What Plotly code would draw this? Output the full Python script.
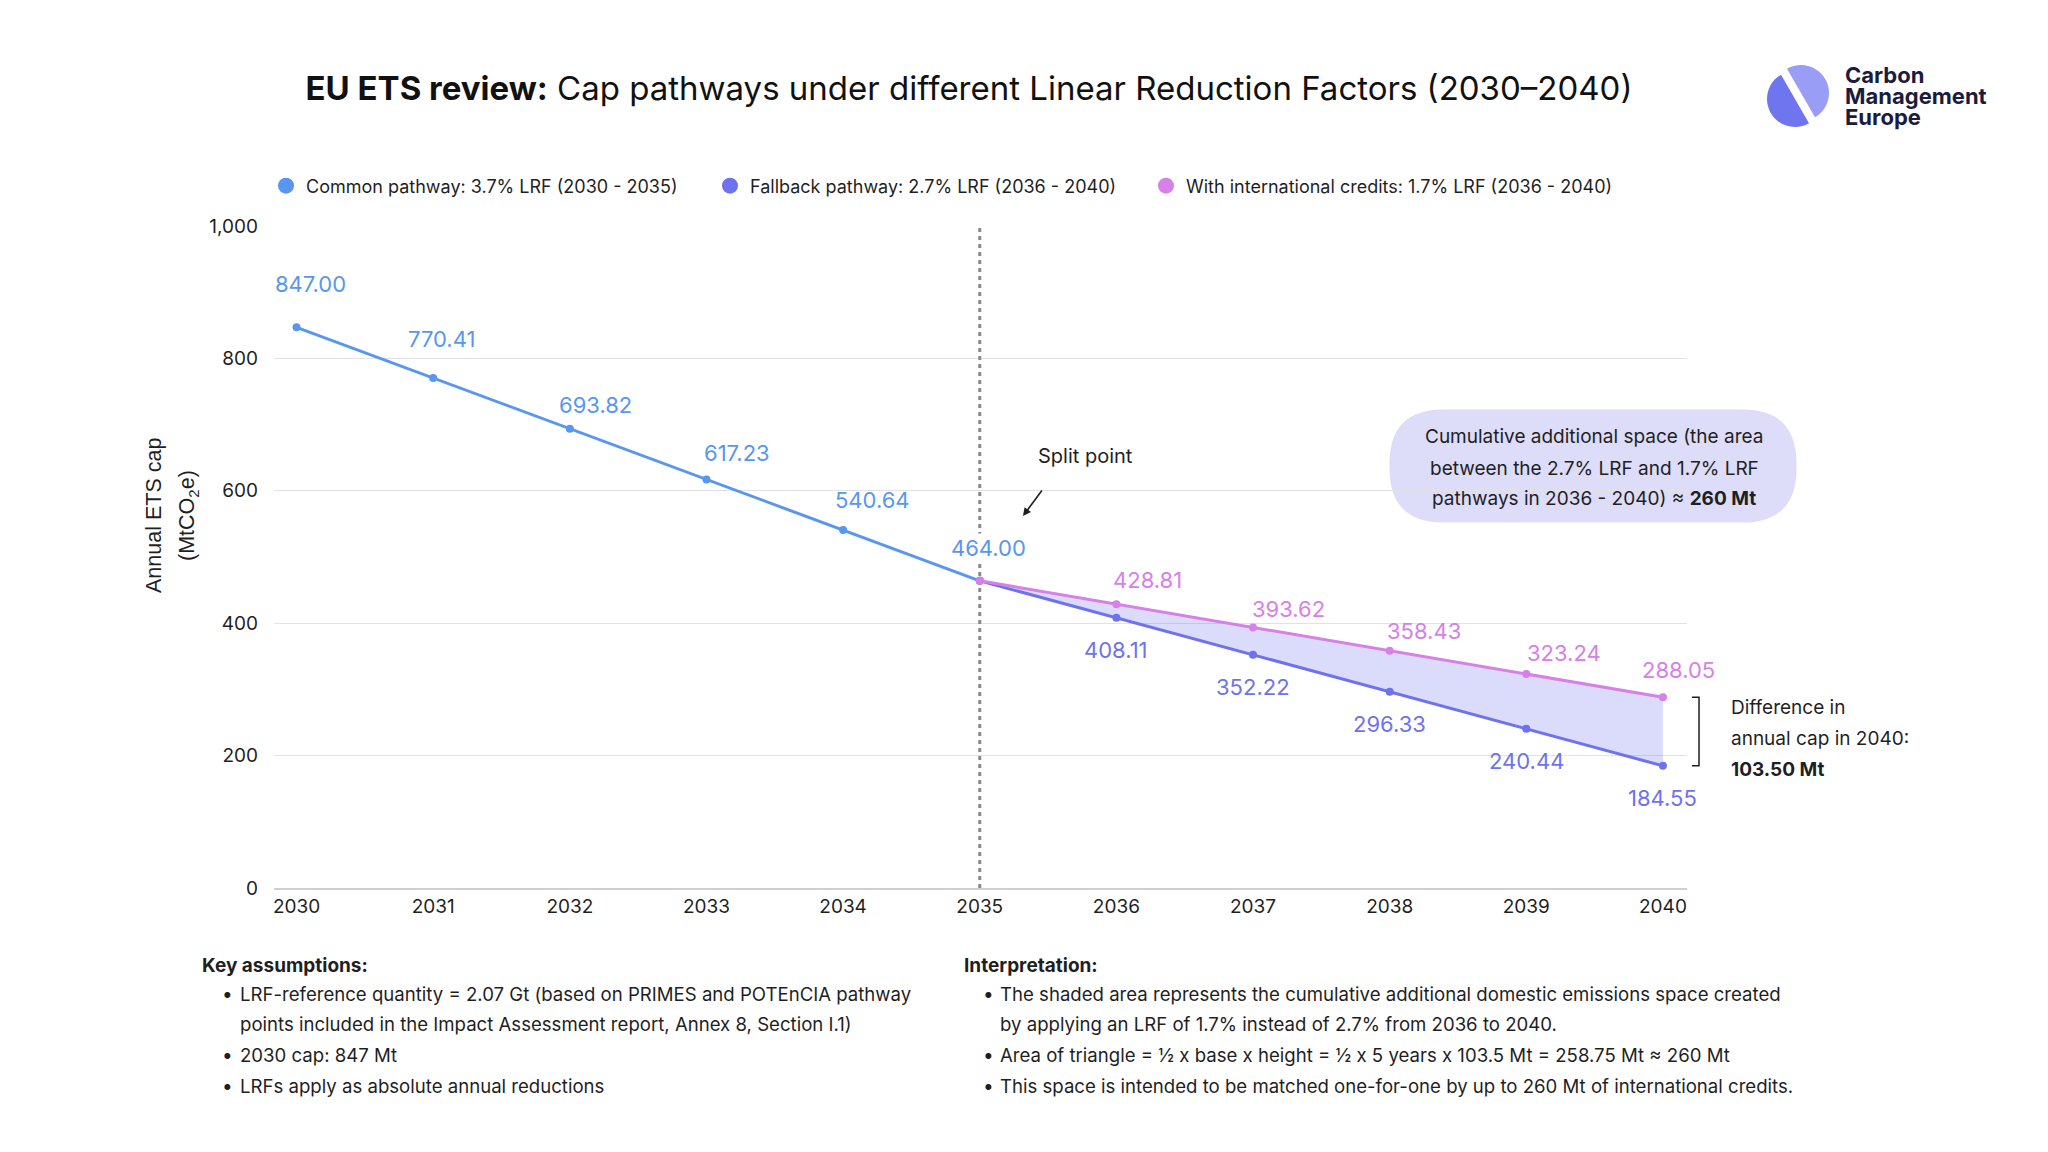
import math
import plotly.graph_objects as go

# values
years_common = [2030, 2031, 2032, 2033, 2034, 2035]
cap_common = [847.00, 770.41, 693.82, 617.23, 540.64, 464.00]

years_split = [2035, 2036, 2037, 2038, 2039, 2040]
cap_fallback = [464.00, 408.11, 352.22, 296.33, 240.44, 184.55]
cap_credits = [464.00, 428.81, 393.62, 358.43, 323.24, 288.05]

x_ticks = list(range(2030, 2041))
y_ticks = [0, 200, 400, 600, 800, 1000]

legend_names = [
    "Common pathway: 3.7% LRF (2030 - 2035)",
    "Fallback pathway: 2.7% LRF (2036 - 2040)",
    "With international credits: 1.7% LRF (2036 - 2040)",
]

callout_lines = [
    "Cumulative additional space (the area",
    "between the 2.7% LRF and 1.7% LRF",
    "pathways in 2036 - 2040) ≈ <b>260 Mt</b>",
]

assumptions = [
    (True, "LRF-reference quantity = 2.07 Gt (based on PRIMES and POTEnCIA pathway"),
    (False, "points included in the Impact Assessment report, Annex 8, Section I.1)"),
    (True, "2030 cap: 847 Mt"),
    (True, "LRFs apply as absolute annual reductions"),
]
interpretation = [
    (True, "The shaded area represents the cumulative additional domestic emissions space created"),
    (False, "by applying an LRF of 1.7% instead of 2.7% from 2036 to 2040."),
    (True, "Area of triangle = ½ x base x height = ½ x 5 years x 103.5 Mt = 258.75 Mt ≈ 260 Mt"),
    (True, "This space is intended to be matched one-for-one by up to 260 Mt of international credits."),
]

# label nudges in pixels (right, up), as placed in the original
common_label_shift = [(14, 43), (8, 39), (26, 24), (31, 26), (29, 30), (9, 33)]
credits_label_shift = [(31, 24), (35, 18), (34, 20), (38, 21), (16, 27)]

BLUE = "#5896F0"
INDIGO = "#6E72EE"
ORCHID = "#D680E8"
INK = "#1f1f1f"
FONT = "Inter"

# plot area in page pixels
L, R, T, B = 274, 1687, 226, 888


def px(x):
    return (x - L) / (R - L)


def py(y):
    return (B - y) / (B - T)


def text_at(x, y, text, size=19, color=INK, anchor="left", **kw):
    return dict(xref="paper", yref="paper", x=px(x), y=py(y), text=text,
                showarrow=False, xanchor=anchor, yanchor="middle",
                font=dict(size=size, color=color), **kw)


def half_disc(r, start_deg, dx, dy):
    """Semicircle path (pixel units) sweeping 180 degrees from start_deg."""
    k = 0.5523 * r
    a = math.radians(start_deg)
    path = f"M {dx + r * math.cos(a):.2f},{dy + r * math.sin(a):.2f}"
    for i in range(2):
        a0 = math.radians(start_deg + 90 * i)
        a1 = math.radians(start_deg + 90 * (i + 1))
        c1 = (dx + r * math.cos(a0) - k * math.sin(a0), dy + r * math.sin(a0) + k * math.cos(a0))
        c2 = (dx + r * math.cos(a1) + k * math.sin(a1), dy + r * math.sin(a1) - k * math.cos(a1))
        p = (dx + r * math.cos(a1), dy + r * math.sin(a1))
        path += f" C {c1[0]:.2f},{c1[1]:.2f} {c2[0]:.2f},{c2[1]:.2f} {p[0]:.2f},{p[1]:.2f}"
    return path + " Z"


def pill(w, h, r):
    x0, x1, y0, y1 = -w / 2, w / 2, -h / 2, h / 2
    return (f"M {x0 + r},{y0} L {x1 - r},{y0} Q {x1},{y0} {x1},{y0 + r} "
            f"L {x1},{y1 - r} Q {x1},{y1} {x1 - r},{y1} L {x0 + r},{y1} "
            f"Q {x0},{y1} {x0},{y1 - r} L {x0},{y0 + r} Q {x0},{y0} {x0 + r},{y0} Z")


fig = go.Figure()

fig.add_trace(go.Scatter(x=years_common, y=cap_common, mode="lines+markers",
                         line=dict(color=BLUE, width=3), marker=dict(size=8, color=BLUE),
                         showlegend=False))
fig.add_trace(go.Scatter(x=years_split, y=cap_fallback, mode="lines+markers",
                         line=dict(color=INDIGO, width=3), marker=dict(size=8, color=INDIGO),
                         showlegend=False))
fig.add_trace(go.Scatter(x=years_split, y=cap_credits, mode="lines+markers",
                         fill="tonexty", fillcolor="rgba(110,114,238,0.25)",
                         line=dict(color=ORCHID, width=3), marker=dict(size=8, color=ORCHID),
                         showlegend=False))

# legend-only entries, one legend box each so the spacing can follow the original
legend_ids = ["legend", "legend2", "legend3"]
for name, col, lg in zip(legend_names, [BLUE, INDIGO, ORCHID], legend_ids):
    fig.add_trace(go.Scatter(x=[None], y=[None], mode="markers", name=name, legend=lg,
                             marker=dict(size=16, color=col)))

annotations = []

# point labels
for x, y, (dx, dy) in zip(years_common, cap_common, common_label_shift):
    annotations.append(dict(x=x, y=y, text=f"{y:.2f}", showarrow=False, xshift=dx, yshift=dy,
                            font=dict(size=22, color=BLUE),
                            bgcolor="white" if x == years_split[0] else None))
for x, y in zip(years_split[1:], cap_fallback[1:]):
    annotations.append(dict(x=x, y=y, text=f"{y:.2f}", showarrow=False, xshift=0, yshift=-32,
                            font=dict(size=22, color=INDIGO)))
for x, y, (dx, dy) in zip(years_split[1:], cap_credits[1:], credits_label_shift):
    annotations.append(dict(x=x, y=y, text=f"{y:.2f}", showarrow=False, xshift=dx, yshift=dy,
                            font=dict(size=22, color=ORCHID)))

# y axis title (two lines)
annotations.append(text_at(154, 516, "Annual ETS cap", size=21.5, anchor="center", textangle=-90,
                           font_family="Liberation Sans"))
annotations.append(text_at(188, 516, "(MtCO<sub>2</sub>e)", size=21.5, anchor="center", textangle=-90,
                           font_family="Liberation Sans"))

# split point note
annotations.append(text_at(1085, 456, "Split point", size=20, anchor="center"))
annotations.append(dict(xref="paper", yref="paper", x=px(1023), y=py(516), ax=20, ay=-27,
                        text="", showarrow=True, arrowhead=2, arrowsize=1, arrowwidth=1.6,
                        arrowcolor=INK))

# callout
for line, y in zip(callout_lines, [436, 468, 498]):
    annotations.append(text_at(1594, y, line, size=19, anchor="center"))

# difference note
diff = cap_credits[-1] - cap_fallback[-1]
for line, y in zip(["Difference in", "annual cap in 2040:", f"<b>{diff:.2f} Mt</b>"], [707, 738, 769]):
    annotations.append(text_at(1729, y, line, size=19))

# footnotes
annotations.append(text_at(200, 965, "<b>Key assumptions:</b>", size=19))
annotations.append(text_at(962, 965, "<b>Interpretation:</b>", size=19))
for (bullet, line), y in zip(assumptions, [994, 1024, 1055, 1086]):
    if bullet:
        annotations.append(text_at(227, y, "•", size=19, anchor="center"))
    annotations.append(text_at(238, y, line, size=18.6))
for (bullet, line), y in zip(interpretation, [994, 1024, 1055, 1086]):
    if bullet:
        annotations.append(text_at(988, y, "•", size=19, anchor="center"))
    annotations.append(text_at(998, y, line, size=18.6))

# logo wordmark
for word, y in zip(["Carbon", "Management", "Europe"], [75, 96, 117]):
    annotations.append(text_at(1843, y, f"<b>{word}</b>", size=22, color="#1b1b3d"))

shapes = [
    # split line at 2035
    dict(type="line", xref="x", yref="y", x0=years_split[0], x1=years_split[0],
         y0=y_ticks[0], y1=y_ticks[-1], line=dict(color="#8a8a8a", width=3, dash="4px,4px"),
         layer="between"),
    # bracket for the 2040 gap
    dict(type="path", xref="paper", yref="y",
         path=(f"M {px(1692):.4f},{cap_credits[-1]} L {px(1699):.4f},{cap_credits[-1]} "
               f"L {px(1699):.4f},{cap_fallback[-1]} L {px(1692):.4f},{cap_fallback[-1]}"),
         line=dict(color=INK, width=1.5)),
    # callout pill
    dict(type="path", xref="paper", yref="paper", xsizemode="pixel", ysizemode="pixel",
         xanchor=px(1593), yanchor=py(466), path=pill(407, 113, 54),
         fillcolor="#dddcf9", line=dict(width=0), layer="below"),
    # logo mark
    dict(type="path", xref="paper", yref="paper", xsizemode="pixel", ysizemode="pixel",
         xanchor=px(1798), yanchor=py(96), path=half_disc(28, 120, -3, -3),
         fillcolor="#6f74ef", line=dict(width=0)),
    dict(type="path", xref="paper", yref="paper", xsizemode="pixel", ysizemode="pixel",
         xanchor=px(1798), yanchor=py(96), path=half_disc(28, 300, 3, 3),
         fillcolor="#9a9df5", line=dict(width=0)),
]

legend_style = dict(orientation="h", yanchor="middle", y=py(186), xanchor="left",
                    font=dict(size=18, color=INK), bgcolor="rgba(0,0,0,0)")

fig.update_layout(
    width=2048, height=1152,
    paper_bgcolor="white", plot_bgcolor="white",
    font=dict(family=FONT, size=19, color=INK),
    margin=dict(l=L, r=2048 - R, t=T, b=1152 - B, autoexpand=False),
    title=dict(text="<b>EU ETS review:</b> Cap pathways under different Linear Reduction Factors (2030–2040)",
               x=969 / 2048, xanchor="center", xref="container",
               y=1 - 88 / 1152, yanchor="middle", yref="container",
               font=dict(size=33, color="#111111")),
    legend=dict(legend_style, x=px(266)),
    legend2=dict(legend_style, x=px(710)),
    legend3=dict(legend_style, x=px(1146)),
    xaxis=dict(range=[2029.835, 2040.176], tickvals=x_ticks, showgrid=False, zeroline=False,
               showline=True, linecolor="#cfcfcf", linewidth=2, ticks="",
               tickfont=dict(size=19, color=INK)),
    yaxis=dict(range=[y_ticks[0], y_ticks[-1]], tickvals=y_ticks, tickformat=",",
               showgrid=True, gridcolor="#e2e2e2", gridwidth=1, zeroline=False,
               showline=False, ticks="", ticklabelstandoff=15,
               tickfont=dict(size=19, color=INK)),
    annotations=annotations,
    shapes=shapes,
    hovermode="closest",
)

fig.write_html("out.html", config={"displayModeBar": False},
               post_script="document.body.style.margin='0';")
